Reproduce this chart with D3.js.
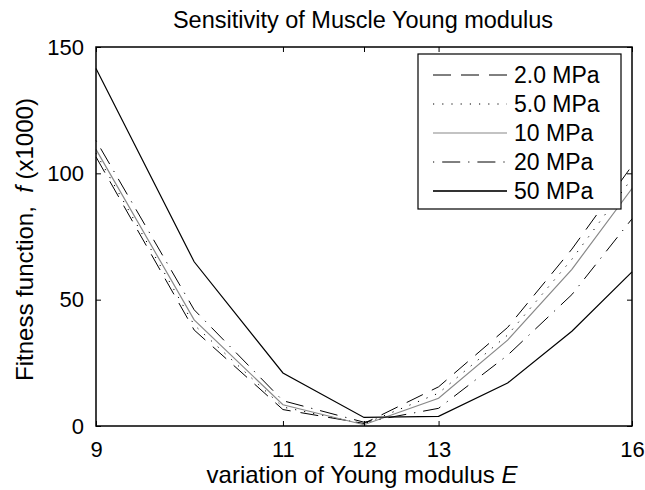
<!DOCTYPE html>
<html>
<head>
<meta charset="utf-8">
<script src="https://cdn.jsdelivr.net/npm/d3@7"></script>
<style>
  html, body { margin: 0; padding: 0; background: #fff; }
  svg { display: block; font-family: "Liberation Sans", Arial, sans-serif; }
</style>
</head>
<body>
<svg id="chart" width="645" height="490"></svg>
<script>
// ---- data ----
const xValues = [9, 10, 11, 12, 13, 14, 15, 16];
const xTicks = [9, 11, 12, 13, 16];
const yTicks = [0, 50, 100, 150];
const seriesNames = ["2.0 MPa", "5.0 MPa", "10 MPa", "20 MPa", "50 MPa"];
const s2MPa  = [106.5, 38, 6.5, 1.0, 15.5, 39, 70, 103];
const s5MPa  = [108, 40, 7.5, 0.8, 13, 36, 66, 98];
const s10MPa = [109.5, 42, 8.4, 0.5, 11, 34, 62, 94];
const s20MPa = [113, 46, 10, 1.5, 7, 28, 52, 82];
const s50MPa = [141.5, 65, 21, 3.4, 3.8, 17, 37.5, 61];
const titleText = "Sensitivity of Muscle Young modulus";

// ---- styles ----
const styles = [
  { color: "#000", width: 1, dash: "18,10" },
  { color: "#000", width: 1, dash: "1.2,8" },
  { color: "#888", width: 1.2, dash: null },
  { color: "#000", width: 1, dash: "1.2,8,18,8" },
  { color: "#000", width: 1.2, dash: null }
];
const seriesData = [s2MPa, s5MPa, s10MPa, s20MPa, s50MPa];

const svg = d3.select("#chart");
const L = 96, R = 632, T = 47, B = 426;
const x = d3.scaleLog().domain([9, 16]).range([L, R]);
const y = d3.scaleLinear().domain([0, 150]).range([B, T]);
const FS = 22;

// series lines
const line = d3.line().x((d, i) => x(xValues[i])).y(d => y(d));
seriesData.forEach((vals, k) => {
  svg.append("path")
    .attr("d", line(vals))
    .attr("fill", "none")
    .attr("stroke", styles[k].color)
    .attr("stroke-width", styles[k].width)
    .attr("stroke-dasharray", styles[k].dash);
});

// box
svg.append("rect").attr("x", L).attr("y", T).attr("width", R - L).attr("height", B - T)
  .attr("fill", "none").attr("stroke", "#000").attr("stroke-width", 1.5);

// axes with inward ticks
const tl = 5;
const xb = svg.append("g").attr("transform", `translate(0,${B})`)
  .call(d3.axisBottom(x).tickValues(xTicks).tickFormat(d3.format("d")).tickSizeInner(-tl).tickSizeOuter(0).tickPadding(15));
const xt = svg.append("g").attr("transform", `translate(0,${T})`)
  .call(d3.axisTop(x).tickValues(xTicks).tickFormat("").tickSizeInner(-tl).tickSizeOuter(0));
const yl = svg.append("g").attr("transform", `translate(${L},0)`)
  .call(d3.axisLeft(y).tickValues(yTicks).tickSizeInner(-tl).tickSizeOuter(0).tickPadding(12));
const yr = svg.append("g").attr("transform", `translate(${R},0)`)
  .call(d3.axisRight(y).tickValues(yTicks).tickFormat("").tickSizeInner(-tl).tickSizeOuter(0));
[xb, xt, yl, yr].forEach(g => {
  g.select(".domain").remove();
  g.selectAll("line").attr("stroke", "#000");
  g.selectAll("text").attr("fill", "#000").style("font-size", FS + "px")
    .style("font-family", '"Liberation Sans", Arial, sans-serif');
});

// title
svg.append("text").attr("x", (L + R) / 2 - 1).attr("y", 28).attr("text-anchor", "middle")
  .style("font-size", "23.5px").text(titleText);

// x label
const xlab = svg.append("text").attr("x", (L + R) / 2 - 2).attr("y", 483).attr("text-anchor", "middle")
  .style("font-size", "24px");
xlab.append("tspan").text("variation of Young modulus ");
xlab.append("tspan").style("font-style", "italic").text("E");

// y label
const ylab = svg.append("text").attr("transform", `translate(33,${(T + B) / 2 + 3}) rotate(-90)`)
  .attr("text-anchor", "middle").style("font-size", "24px");
ylab.append("tspan").text("Fitness function,\u00a0\u00a0");
ylab.append("tspan").style("font-style", "italic").text("f");
ylab.append("tspan").text(" (x1000)");

// legend
const lg = svg.append("g");
lg.append("rect").attr("x", 418).attr("y", 54).attr("width", 203).attr("height", 155)
  .attr("fill", "#fff").attr("stroke", "#000").attr("stroke-width", 1.2);
seriesNames.forEach((name, k) => {
  const cy = 75 + k * 29;
  lg.append("line").attr("x1", 433).attr("x2", 507).attr("y1", cy).attr("y2", cy)
    .attr("stroke", k === 4 ? "#333" : styles[k].color)
    .attr("stroke-width", k === 4 ? 1.8 : styles[k].width)
    .attr("stroke-dasharray", styles[k].dash);
  lg.append("text").attr("x", 514).attr("y", cy).attr("dy", "0.36em")
    .style("font-size", "23px").text(name);
});
</script>
</body>
</html>
